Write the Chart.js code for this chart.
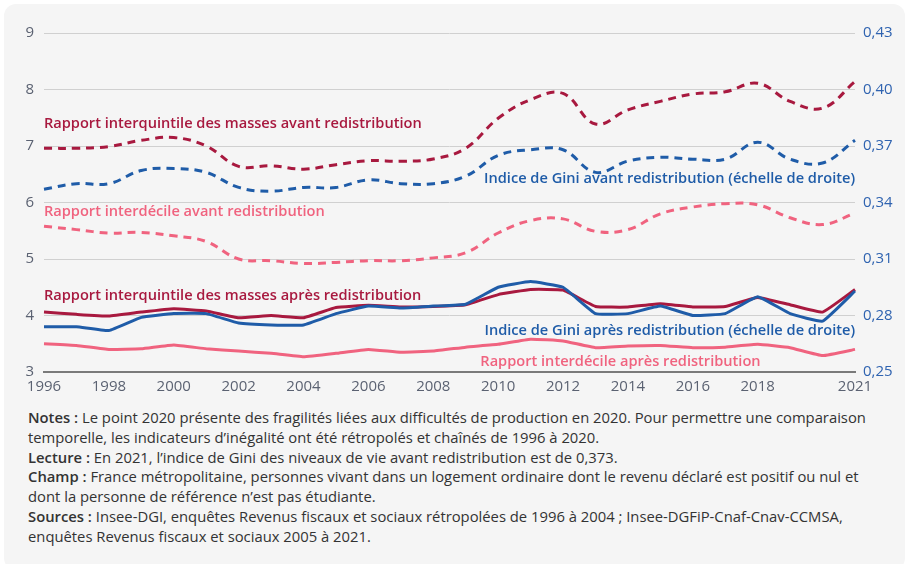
<!DOCTYPE html>
<html lang="fr">
<head>
<meta charset="utf-8">
<script src="https://cdn.jsdelivr.net/npm/chart.js@4"></script>
<style>
  html, body { margin: 0; padding: 0; background: #ffffff; }
  body { width: 908px; height: 564px; overflow: hidden; font-family: "Open Sans", sans-serif; }
  .card {
    position: absolute; left: 4px; top: 4px; width: 901px; height: 566px;
    background: #f5f5f5; border-radius: 12px;
  }
  .chart-box { position: absolute; left: 0; top: 0; width: 908px; height: 396px; }
  .notes {
    position: absolute; left: 28px; top: 408px; width: 852px;
    font-size: 14.8px; line-height: 19.8px; color: #333333;
  }
  .notes b { font-weight: 600; }
</style>
</head>
<body>
<div class="card"></div>
<div class="chart-box"><canvas id="chartInegalites" width="908" height="396"></canvas></div>
<div class="notes">
  <div><b>Notes :</b> Le point 2020 présente des fragilités liées aux difficultés de production en 2020. Pour permettre une comparaison temporelle, les indicateurs d’inégalité ont été rétropolés et chaînés de 1996 à 2020.</div>
  <div><b>Lecture :</b> En 2021, l’indice de Gini des niveaux de vie avant redistribution est de 0,373.</div>
  <div><b>Champ :</b> France métropolitaine, personnes vivant dans un logement ordinaire dont le revenu déclaré est positif ou nul et dont la personne de référence n’est pas étudiante.</div>
  <div><b>Sources :</b> Insee-DGI, enquêtes Revenus fiscaux et sociaux rétropolées de 1996 à 2004 ; Insee-DGFiP-Cnaf-Cnav-CCMSA, enquêtes Revenus fiscaux et sociaux 2005 à 2021.</div>
</div>
<script>
// Années (axe horizontal)
const annees = ['1996','1997','1998','1999','2000','2001','2002','2003','2004','2005','2006','2007','2008',
  '2009','2010','2011','2012','2013','2014','2015','2016','2017','2018','2019','2020','2021'];
const anneesAffichees = ['1996','1998','2000','2002','2004','2006','2008','2010','2012','2014','2016','2018','2021'];

// Échelle de gauche (rapports)
const interquintileAvant = [6.96,6.96,6.99,7.10,7.15,7.00,6.64,6.65,6.59,6.67,6.74,6.73,6.77,
  6.96,7.49,7.82,7.93,7.39,7.64,7.79,7.92,7.96,8.11,7.79,7.67,8.14];
const interdecileAvant = [5.58,5.52,5.46,5.47,5.41,5.31,5.00,4.97,4.92,4.94,4.97,4.97,5.02,
  5.11,5.46,5.68,5.71,5.49,5.52,5.80,5.92,5.98,5.96,5.73,5.61,5.81];
const interquintileApres = [4.06,4.02,3.99,4.06,4.12,4.08,3.96,4.00,3.96,4.14,4.18,4.15,4.16,
  4.19,4.37,4.46,4.45,4.16,4.15,4.21,4.15,4.16,4.32,4.19,4.06,4.46];
const interdecileApres = [3.50,3.47,3.40,3.41,3.48,3.41,3.37,3.33,3.27,3.33,3.40,3.35,3.37,
  3.44,3.49,3.58,3.55,3.43,3.46,3.47,3.43,3.44,3.49,3.43,3.29,3.40];

// Échelle de droite (indices de Gini)
const giniAvant = [0.347,0.350,0.350,0.357,0.358,0.356,0.348,0.346,0.348,0.348,0.352,0.350,0.350,
  0.354,0.365,0.368,0.368,0.356,0.362,0.364,0.363,0.363,0.372,0.363,0.361,0.373];
const giniApres = [0.274,0.274,0.272,0.279,0.281,0.281,0.276,0.275,0.275,0.281,0.285,0.284,0.285,
  0.286,0.295,0.298,0.295,0.281,0.281,0.285,0.280,0.281,0.290,0.281,0.277,0.293];

const ticksGauche = [3,4,5,6,7,8,9];
const ticksDroite = [0.25,0.28,0.31,0.34,0.37,0.40,0.43];

// Couleurs
const ROUGE = '#a8193f';
const BLEU = '#1f5ca8';
const ROSE = '#f0637f';

// Étiquettes posées dans la zone de tracé (position en valeur de l'échelle de gauche)
const etiquettes = [
  { texte: 'Rapport interquintile des masses avant redistribution', couleur: ROUGE, valeur: 7.40, align: 'left', fx: 0 },
  { texte: 'Indice de Gini avant redistribution (échelle de droite)', couleur: BLEU, valeur: 6.42, align: 'right', fx: 1 },
  { texte: 'Rapport interdécile avant redistribution', couleur: ROSE, valeur: 5.83, align: 'left', fx: 0 },
  { texte: 'Rapport interquintile des masses après redistribution', couleur: ROUGE, valeur: 4.35, align: 'left', fx: 0 },
  { texte: 'Indice de Gini après redistribution (échelle de droite)', couleur: BLEU, valeur: 3.72, align: 'right', fx: 1 },
  { texte: 'Rapport interdécile après redistribution', couleur: ROSE, valeur: 3.18, align: 'left', fx: 0.538 }
];

const pluginEtiquettes = {
  id: 'etiquettes',
  afterDatasetsDraw(chart) {
    const ctx = chart.ctx;
    const area = chart.chartArea;
    const y = chart.scales.y;
    ctx.save();
    ctx.font = '600 14.6px "Open Sans", sans-serif';
    ctx.textBaseline = 'middle';
    etiquettes.forEach(e => {
      ctx.fillStyle = e.couleur;
      ctx.textAlign = e.align;
      const x = area.left + (area.right - area.left) * e.fx;
      ctx.fillText(e.texte, x, y.getPixelForValue(e.valeur));
    });
    ctx.restore();
  }
};

function serie(label, data, couleur, axe, pointille) {
  return {
    label: label,
    data: data,
    yAxisID: axe,
    borderColor: couleur,
    backgroundColor: couleur,
    borderWidth: 3,
    borderDash: pointille ? [8, 6] : [],
    tension: pointille ? 0.4 : 0.1,
    pointRadius: 0,
    fill: false
  };
}

const ctx = document.getElementById('chartInegalites').getContext('2d');
const chart = new Chart(ctx, {
  type: 'line',
  data: {
    labels: annees,
    datasets: [
      serie('Indice de Gini après redistribution', giniApres, BLEU, 'y2', false),
      serie('Rapport interquintile des masses après redistribution', interquintileApres, ROUGE, 'y', false),
      serie('Rapport interdécile après redistribution', interdecileApres, ROSE, 'y', false),
      serie('Rapport interquintile des masses avant redistribution', interquintileAvant, ROUGE, 'y', true),
      serie('Indice de Gini avant redistribution', giniAvant, BLEU, 'y2', true),
      serie('Rapport interdécile avant redistribution', interdecileAvant, ROSE, 'y', true)
    ]
  },
  options: {
    responsive: false,
    animation: false,
    layout: { padding: { top: 33, left: 0, right: 0, bottom: 0 } },
    plugins: {
      legend: { display: false },
      tooltip: { enabled: false }
    },
    scales: {
      x: {
        grid: { display: false, drawTicks: false },
        border: { color: '#7a7a7a', width: 2 },
        ticks: {
          autoSkip: false,
          maxRotation: 0,
          padding: 6,
          color: '#5b6272',
          font: { family: 'Open Sans', size: 15 },
          callback: function(val, i) {
            const a = annees[i];
            return anneesAffichees.includes(a) ? a : '';
          }
        },
        afterFit: function(scale) { scale.height = 24; }
      },
      y: {
        position: 'left',
        min: 3, max: 9,
        afterBuildTicks: function(scale) { scale.ticks = ticksGauche.map(v => ({ value: v })); },
        grid: { color: '#d0d0d0', lineWidth: 1, drawTicks: false },
        border: { display: false },
        ticks: {
          padding: 10,
          color: '#5b6272',
          font: { family: 'Open Sans', size: 15 }
        },
        afterFit: function(scale) { scale.width = 44; }
      },
      y2: {
        position: 'right',
        min: 0.25, max: 0.43,
        afterBuildTicks: function(scale) { scale.ticks = ticksDroite.map(v => ({ value: v })); },
        grid: { display: false, drawTicks: false },
        border: { display: false },
        ticks: {
          padding: 8,
          color: '#2f63b0',
          font: { family: 'Open Sans', size: 15 },
          callback: function(v) { return v.toFixed(2).replace('.', ','); }
        },
        afterFit: function(scale) { scale.width = 53; }
      }
    }
  },
  plugins: [pluginEtiquettes]
});
</script>
</body>
</html>
